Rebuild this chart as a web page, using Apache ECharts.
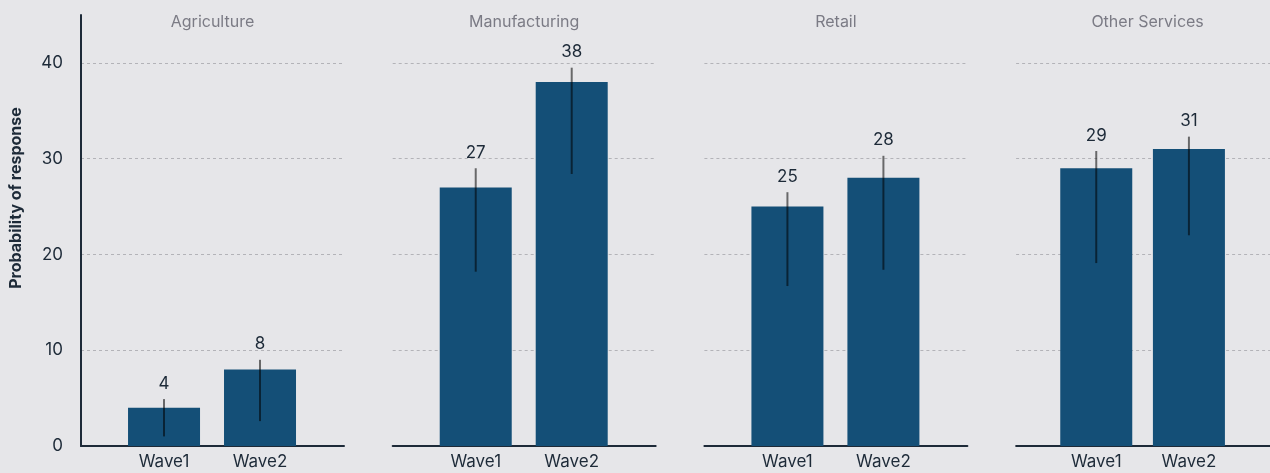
<!DOCTYPE html>
<html>
<head>
<meta charset="utf-8">
<script src="https://cdn.jsdelivr.net/npm/echarts@6/dist/echarts.min.js"></script>
<style>
  html, body { margin: 0; padding: 0; background: #e6e6e9; }
  #chart { width: 1270px; height: 473px; }
</style>
</head>
<body>
<div id="chart"></div>
<script>
// data
const sectors = ['Agriculture', 'Manufacturing', 'Retail', 'Other Services'];
const waves = ['Wave1', 'Wave2'];
const agriculture = [4, 8];
const manufacturing = [27, 38];
const retail = [25, 28];
const otherServices = [29, 31];
const ciLow = [[1.0, 2.6], [18.2, 28.4], [16.7, 18.4], [19.1, 22.0]];
const ciHigh = [[4.9, 9.0], [29.0, 39.5], [26.5, 30.3], [30.8, 32.3]];
const yTicks = [0, 10, 20, 30, 40];
const values = [agriculture, manufacturing, retail, otherServices];

// layout
const PANEL_LEFT = 81, PANEL_STEP = 311.7, PANEL_W = 263, TOP = 15, BOTTOM = 27;
const INK = '#1d2a38', BAR = '#144f77', FONT = 'Inter, "Noto Sans", sans-serif';

const grids = [], xAxes = [], yAxes = [], series = [], graphics = [];

sectors.forEach((name, i) => {
  const left = PANEL_LEFT + i * PANEL_STEP;
  grids.push({ left: left, width: PANEL_W, top: TOP, bottom: BOTTOM, containLabel: false });

  xAxes.push({
    type: 'value', gridIndex: i, min: -0.865, max: 1.875,
    axisLine: { show: true, onZero: false, lineStyle: { color: INK, width: 2 } },
    axisTick: { show: false },
    splitLine: { show: false },
    axisLabel: {
      customValues: [0, 1],
      formatter: v => waves[Math.round(v)],
      color: INK, fontSize: 17, fontFamily: FONT, margin: 7
    }
  });

  yAxes.push({
    type: 'value', gridIndex: i, min: 0, max: 45, interval: 10,
    axisLine: { show: i === 0, onZero: false, lineStyle: { color: INK, width: 2 } },
    axisTick: { show: false },
    axisLabel: {
      show: i === 0, color: INK, fontSize: 17, fontFamily: FONT, margin: 18,
      customValues: yTicks
    },
    splitLine: {
      show: true, showMinLine: false, showMaxLine: false,
      lineStyle: { color: '#b3b3b8', type: [3, 3], width: 1 }
    }
  });

  series.push({
    type: 'bar', xAxisIndex: i, yAxisIndex: i,
    barWidth: 72,
    itemStyle: { color: BAR },
    data: values[i].map((v, j) => [j, v]),
    z: 2
  });

  series.push({
    type: 'custom', xAxisIndex: i, yAxisIndex: i, z: 5,
    data: values[i].map((v, j) => [j, v, ciLow[i][j], ciHigh[i][j]]),
    renderItem: (params, api) => {
      const lo = api.coord([api.value(0), api.value(2)]);
      const hi = api.coord([api.value(0), api.value(3)]);
      return {
        type: 'group',
        children: [
          { type: 'line', shape: { x1: lo[0], y1: lo[1], x2: hi[0], y2: hi[1] },
            style: { stroke: 'rgba(0,0,0,0.55)', lineWidth: 2 } },
          { type: 'text', x: hi[0], y: hi[1] - 7,
            style: { text: String(api.value(1)), fill: INK, fontSize: 17, fontFamily: FONT,
                     align: 'center', verticalAlign: 'bottom' } }
        ]
      };
    }
  });

  graphics.push({
    type: 'text', x: left + PANEL_W / 2, y: 22,
    style: { text: name, fill: '#7b7b85', fontSize: 16, fontFamily: FONT, align: 'center', verticalAlign: 'middle' }
  });
});

graphics.push({
  type: 'text', x: 16, y: 198, rotation: Math.PI / 2,
  style: { text: 'Probability of response', fill: INK, fontSize: 16, fontWeight: 'bold',
           fontFamily: FONT, align: 'center', verticalAlign: 'middle' }
});

const chart = echarts.init(document.getElementById('chart'), null, { renderer: 'canvas' });
chart.setOption({
  backgroundColor: '#e6e6e9',
  animation: false,
  grid: grids,
  xAxis: xAxes,
  yAxis: yAxes,
  series: series,
  graphic: graphics
});
</script>
</body>
</html>
